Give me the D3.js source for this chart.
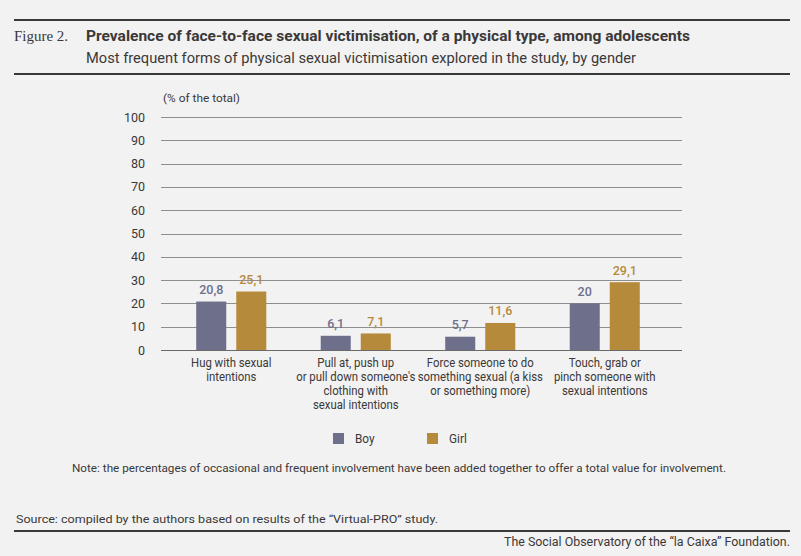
<!DOCTYPE html>
<html>
<head>
<meta charset="utf-8">
<script src="https://cdn.jsdelivr.net/npm/d3@7"></script>
<style>
  body { margin: 0; background: #f2f2f2; }
  svg { display: block; }
</style>
</head>
<body>
<svg id="chart"></svg>
<script>
// data
var categories = [
	["Hug with sexual", "intentions"],
	["Pull at, push up", "or pull down someone's", "clothing with", "sexual intentions"],
	["Force someone to do", "something sexual (a kiss", "or something more)"],
	["Touch, grab or", "pinch someone with", "sexual intentions"]
];
var series = ["Boy", "Girl"];
var boyValues = [20.8, 6.1, 5.7, 20];
var girlValues = [25.1, 7.1, 11.6, 29.1];
var yTicks = [0, 10, 20, 30, 40, 50, 60, 70, 80, 90, 100];

var W = 801, H = 556;
var font = "Roboto, 'Liberation Sans', sans-serif";
var squeeze = 0.91; // the original face runs a little narrower than Roboto
var ink = "#3b3838";
var colors = {Boy: "#6e6f8b", Girl: "#b68a3b"};

var svg = d3.select("#chart")
	.attr("width", W)
	.attr("height", H)
	.style("background-color", "#f2f2f2")
	.style("font-family", font);

// rules
svg.append("line").attr("x1", 14).attr("x2", 790).attr("y1", 20).attr("y2", 20)
	.attr("stroke", ink).attr("stroke-width", 2);
svg.append("line").attr("x1", 14).attr("x2", 790).attr("y1", 74).attr("y2", 74)
	.attr("stroke", ink).attr("stroke-width", 2);
svg.append("line").attr("x1", 14).attr("x2", 790).attr("y1", 531).attr("y2", 531)
	.attr("stroke", ink).attr("stroke-width", 2);

// headings
svg.append("text").attr("x", 14).attr("y", 41)
	.style("font-family", "'Liberation Serif', 'DejaVu Serif', serif")
	.attr("font-size", 14).attr("fill", ink)
	.attr("textLength", 54).attr("lengthAdjust", "spacingAndGlyphs")
	.text("Figure 2.");
svg.append("text").attr("x", 86).attr("y", 41)
	.attr("font-size", 14).attr("font-weight", "bold").attr("fill", ink)
	.attr("textLength", 604).attr("lengthAdjust", "spacingAndGlyphs")
	.text("Prevalence of face-to-face sexual victimisation, of a physical type, among adolescents");
svg.append("text").attr("x", 86).attr("y", 63)
	.attr("font-size", 14).attr("fill", ink)
	.attr("textLength", 550).attr("lengthAdjust", "spacingAndGlyphs")
	.text("Most frequent forms of physical sexual victimisation explored in the study, by gender");

svg.append("text").attr("x", 163).attr("y", 102)
	.attr("font-size", 11.5).attr("fill", ink)
	.attr("textLength", 77).attr("lengthAdjust", "spacingAndGlyphs")
	.text("(% of the total)");

// scales
var y = d3.scaleLinear()
	.domain([0, 100])
	.range([350, 117]);

var x0 = d3.scaleBand()
	.domain(d3.range(categories.length))
	.range([169, 667])
	.padding(0);

var x1 = d3.scaleBand()
	.domain(series)
	.range([0, x0.bandwidth()])
	.paddingInner(0.25)
	.paddingOuter(0.68);

// grid
svg.append("g")
	.selectAll("line")
	.data(yTicks)
	.join("line")
	.attr("x1", 161).attr("x2", 682)
	.attr("y1", d => Math.round(y(d)) + 0.5)
	.attr("y2", d => Math.round(y(d)) + 0.5)
	.attr("stroke", d => d === 0 ? "#6a6a6a" : "#8e8e8e")
	.attr("stroke-width", 1);

// y axis labels
var yAxis = d3.axisLeft(y).tickValues(yTicks).tickSize(0).tickPadding(0);
svg.append("g")
	.attr("transform", "translate(145,0)")
	.call(yAxis)
	.call(g => g.select(".domain").remove())
	.call(g => g.selectAll("text")
		.attr("font-size", 12.5)
		.attr("fill", ink)
		.style("font-family", font));

// bars
var rows = categories.map((c, i) => ({
	i: i,
	values: [{key: "Boy", v: boyValues[i]}, {key: "Girl", v: girlValues[i]}]
}));

var groups = svg.append("g")
	.selectAll("g")
	.data(rows)
	.join("g")
	.attr("transform", d => "translate(" + x0(d.i) + ",0)");

groups.selectAll("rect")
	.data(d => d.values)
	.join("rect")
	.attr("x", d => x1(d.key))
	.attr("width", x1.bandwidth())
	.attr("y", d => y(d.v))
	.attr("height", d => y(0) - y(d.v))
	.attr("fill", d => colors[d.key]);

groups.selectAll("text.val")
	.data(d => d.values)
	.join("text")
	.attr("class", "val")
	.attr("x", d => x1(d.key) + x1.bandwidth() / 2)
	.attr("y", d => y(d.v) - 7.5)
	.attr("text-anchor", "middle")
	.attr("font-size", 12.5)
	.attr("font-weight", 500)
	.attr("fill", d => colors[d.key])
	.text(d => String(d.v).replace(".", ","));

// category labels
groups.append("text")
	.attr("transform", "translate(" + (x0.bandwidth() / 2) + ",367) scale(" + squeeze + ",1)")
	.attr("text-anchor", "middle")
	.attr("font-size", 12.5)
	.attr("fill", ink)
	.selectAll("tspan")
	.data(d => categories[d.i])
	.join("tspan")
	.attr("x", 0)
	.attr("dy", (d, j) => j === 0 ? 0 : 14)
	.text(d => d);

// legend
var legendX = {Boy: 333, Girl: 427};
var legend = svg.append("g")
	.selectAll("g")
	.data(series)
	.join("g")
	.attr("transform", d => "translate(" + legendX[d] + ",433)");
legend.append("rect")
	.attr("width", 11).attr("height", 11)
	.attr("fill", d => colors[d]);
legend.append("text")
	.attr("transform", "translate(22,10) scale(" + squeeze + ",1)")
	.attr("font-size", 13)
	.attr("fill", ink)
	.text(d => d);

// notes
svg.append("text").attr("x", 399).attr("y", 472)
	.attr("text-anchor", "middle")
	.attr("font-size", 11.5).attr("fill", ink)
	.attr("textLength", 654).attr("lengthAdjust", "spacingAndGlyphs")
	.text("Note: the percentages of occasional and frequent involvement have been added together to offer a total value for involvement.");
svg.append("text").attr("x", 16).attr("y", 523)
	.attr("font-size", 11.5).attr("fill", ink)
	.attr("textLength", 422).attr("lengthAdjust", "spacingAndGlyphs")
	.text("Source: compiled by the authors based on results of the \u201cVirtual-PRO\u201d study.");
svg.append("text").attr("x", 790).attr("y", 546)
	.attr("text-anchor", "end")
	.attr("font-size", 12).attr("fill", ink)
	.attr("textLength", 286).attr("lengthAdjust", "spacingAndGlyphs")
	.text("The Social Observatory of the \u201cla Caixa\u201d Foundation.");
</script>
</body>
</html>
